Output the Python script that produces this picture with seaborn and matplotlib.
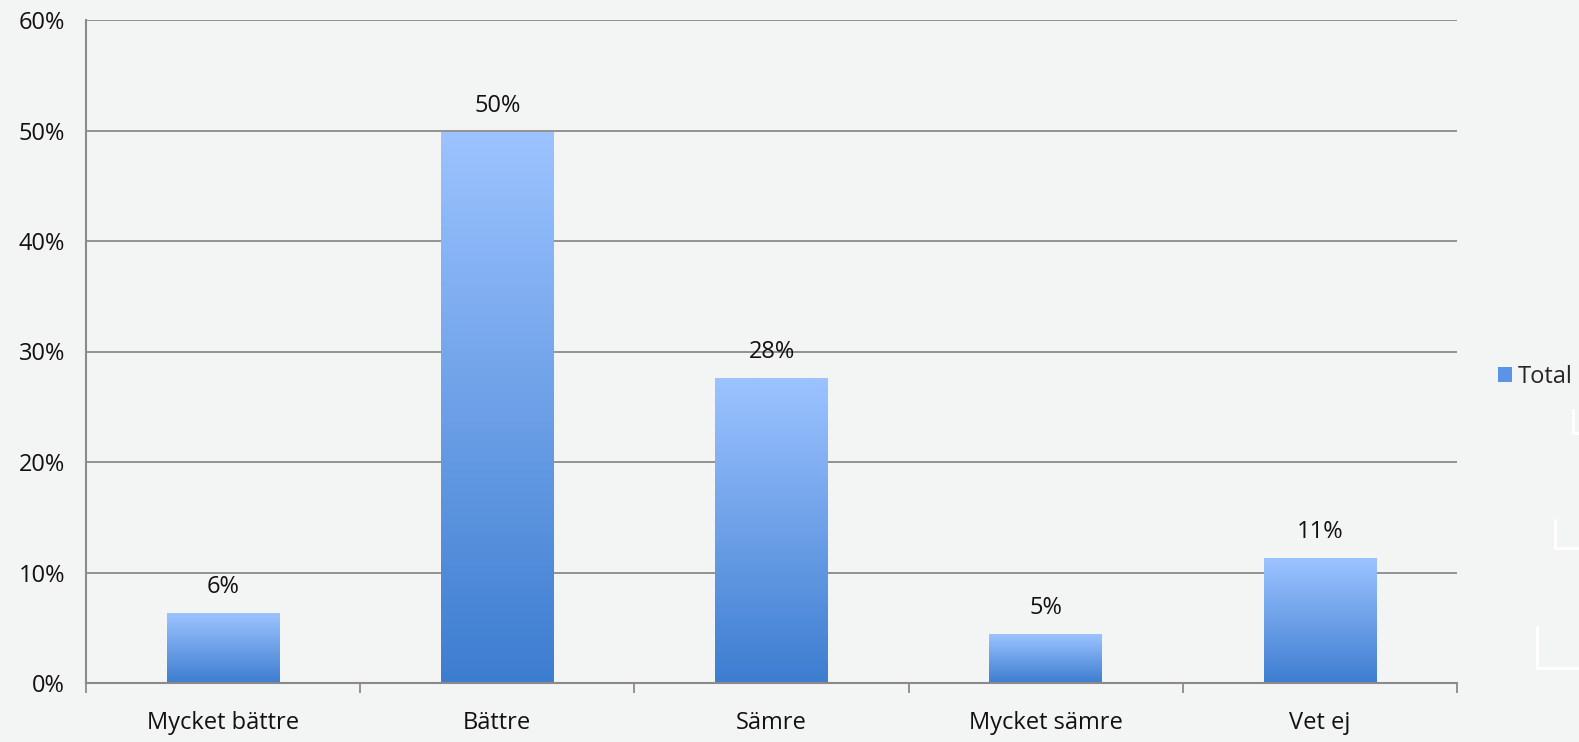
#!/usr/bin/env python3
"""Bar chart: Total share per answer category with gradient bars."""
import matplotlib
matplotlib.use("Agg")
import matplotlib.pyplot as plt
import numpy as np
import pandas as pd
import seaborn as sns
from matplotlib.colors import LinearSegmentedColormap
from matplotlib.lines import Line2D
from matplotlib.patches import Patch

categories = ["Mycket bättre", "Bättre", "Sämre", "Mycket sämre", "Vet ej"]
values = [6.3, 49.9, 27.6, 4.4, 11.3]
labels = ["6%", "50%", "28%", "5%", "11%"]
y_ticks = [0, 10, 20, 30, 40, 50, 60]
series_name = "Total"

BG = "#f3f4f4"
GRID = "#8a8a8a"
TOP = "#9cc3ff"
BOTTOM = "#3d7dd0"
FS = 17

sns.set_theme(style="white")
plt.rcParams["font.family"] = ["Open Sans", "DejaVu Sans"]

df = pd.DataFrame({"category": categories, "value": values})

fig = plt.figure(figsize=(15.79, 7.42), dpi=100)
fig.patch.set_facecolor(BG)
ax = fig.add_axes([86 / 1579, 1 - 683 / 742, (1457 - 86) / 1579, (683 - 20) / 742])
ax.set_facecolor(BG)

sns.barplot(data=df, x="category", y="value", color=BOTTOM, width=0.41, ax=ax,
            linewidth=0, zorder=3)

# gradient fill clipped to each bar
cmap = LinearSegmentedColormap.from_list("bar", [BOTTOM, TOP])
grad = np.linspace(0, 1, 256).reshape(-1, 1)
for bar in ax.patches:
    x0, y0 = bar.get_x(), bar.get_y()
    w, h = bar.get_width(), bar.get_height()
    im = ax.imshow(grad, cmap=cmap, origin="lower", aspect="auto",
                   extent=[x0, x0 + w, y0, y0 + h], zorder=4)
    im.set_clip_path(bar)

for bar, lab in zip(ax.patches, labels):
    ax.annotate(lab, (bar.get_x() + bar.get_width() / 2, bar.get_height()),
                xytext=(0, 10), textcoords="offset points", ha="center", va="bottom",
                fontsize=FS, color="#111111")

ax.set_xlim(-0.5, len(categories) - 0.5)
ax.set_ylim(0, 60)
ax.set_yticks(y_ticks)
ax.set_yticklabels([f"{t}%" for t in y_ticks], fontsize=FS, color="#111111")
ax.set_xticks(range(len(categories)))
ax.set_xticklabels(categories, fontsize=FS, color="#111111")
ax.set_xlabel("")
ax.set_ylabel("")
ax.set_axisbelow(True)
ax.yaxis.grid(True, color=GRID, linewidth=1.3, zorder=0)

# category boundary ticks below the axis
ax.set_xticks(np.arange(-0.5, len(categories)), minor=True)
ax.tick_params(axis="x", which="major", length=0, pad=20)
ax.tick_params(axis="x", which="minor", length=7, width=1.3, color=GRID, direction="out")
ax.tick_params(axis="y", length=7, width=1.3, color=GRID, direction="out", pad=8)
ax.xaxis.set_tick_params(which="minor", bottom=True)

for side in ["top", "right"]:
    ax.spines[side].set_visible(False)
for side in ["left", "bottom"]:
    ax.spines[side].set_color(GRID)
    ax.spines[side].set_linewidth(1.5)
    ax.spines[side].set_zorder(5)

handle = Patch(facecolor="#5b93e6", edgecolor="none")
fig.legend([handle], [series_name], loc="center left",
           bbox_to_anchor=(1498 / 1579, 1 - 377 / 742), frameon=False,
           fontsize=FS, handlelength=0.6, handleheight=0.6, handletextpad=0.25,
           borderpad=0, borderaxespad=0)

# faint white corner marks at the right edge
for xv, y_top, y_bot in [(1573, 410, 433), (1555, 520, 548), (1537, 627, 668)]:
    fig.add_artist(Line2D([xv / 1579, xv / 1579, 1.0],
                          [1 - y_top / 742, 1 - y_bot / 742, 1 - y_bot / 742],
                          color="white", linewidth=2.2, transform=fig.transFigure))

fig.savefig("out.png", dpi=100, facecolor=BG)
